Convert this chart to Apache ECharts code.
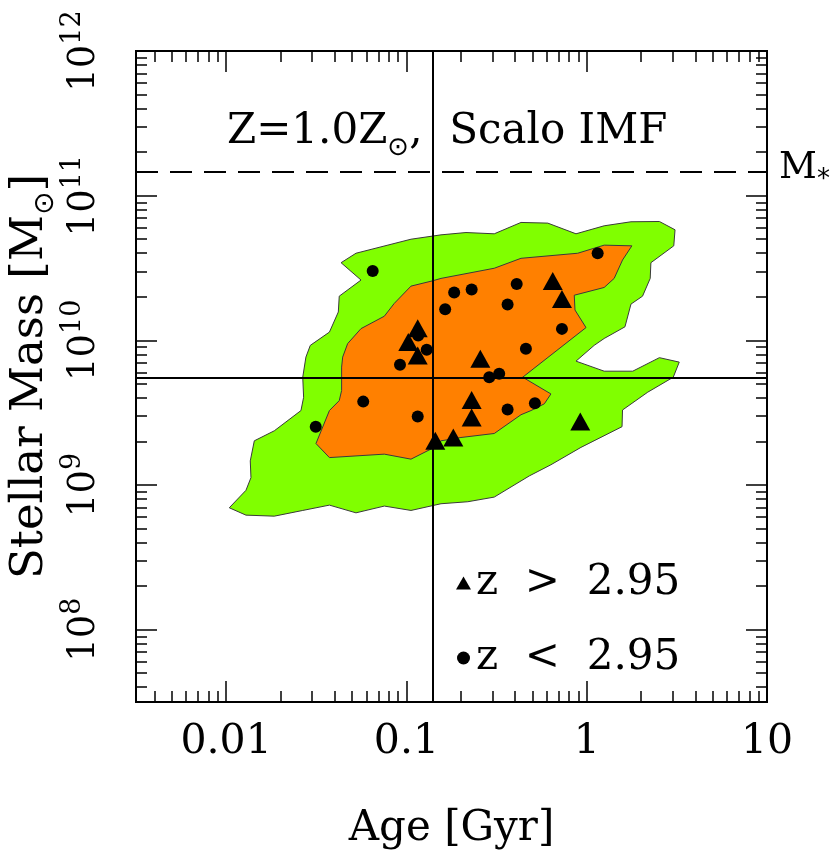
<!DOCTYPE html>
<html><head><meta charset="utf-8">
<script src="https://cdn.jsdelivr.net/npm/echarts@6/dist/echarts.min.js"></script>
<style>html,body{margin:0;padding:0;background:#fff}#c{width:830px;height:858px}</style>
</head><body><div id="c"></div>
<script>
// ---- data ----
const ageTicks = [0.01, 0.1, 1, 10];
const ageTickLabels = ['0.01', '0.1', '1', '10'];
const massTicks = [1e8, 1e9, 1e10, 1e11, 1e12];
const massTickExponents = ['8', '9', '10', '11', '12'];
const ageRange = [0.0031623, 10];
const massRange = [3.1623e7, 1e12];

const ageLine = 0.14;        // vertical solid line
const massLine = 5.54e9;     // horizontal solid line
const mStarLine = 1.47e11;   // dashed M* line

const greenContour = [
  [0.0434,3.44e10],[0.0525,4.00e10],[0.106,5.00e10],[0.1555,5.36e10],[0.214,5.56e10],
  [0.307,5.45e10],[0.432,6.53e10],[0.608,6.46e10],[0.872,5.45e10],[1.25,6.19e10],
  [1.76,6.60e10],[2.53,6.63e10],[3.09,5.81e10],[3.04,4.50e10],[2.27,3.44e10],
  [2.25,2.68e10],[2.04,2.02e10],[1.76,1.78e10],[1.63,1.24e10],[1.25,1.03e10],
  [1.10,9.23e9],[0.872,7.18e9],[1.25,6.12e9],[1.80,6.12e9],[2.53,7.59e9],
  [3.26,7.07e9],[3.02,5.56e9],[2.18,4.38e9],[1.58,3.30e9],[1.57,2.53e9],
  [0.929,1.82e9],[0.633,1.38e9],[0.480,1.155e9],[0.307,8.25e8],[0.219,7.66e8],
  [0.1555,7.42e8],[0.106,6.67e8],[0.0754,7.15e8],[0.0525,6.42e8],[0.0374,7.26e8],
  [0.0266,6.67e8],[0.0185,6.09e8],[0.01288,6.19e8],[0.01041,6.96e8],[0.01288,9.19e8],
  [0.01373,1.124e9],[0.01361,1.468e9],[0.01433,2.02e9],[0.0185,2.37e9],[0.0260,3.27e9],
  [0.0269,4.04e9],[0.0266,5.56e9],[0.0277,7.66e9],[0.0293,9.23e9],[0.0374,1.14e10],
  [0.0419,1.57e10],[0.0424,2.02e10],[0.0560,2.61e10]
];
const orangeContour = [
  [0.106,2.37e10],[0.1399,2.58e10],[0.1555,2.68e10],[0.307,3.15e10],[0.432,3.69e10],
  [0.891,4.00e10],[1.25,4.55e10],[1.78,4.50e10],[1.58,3.59e10],[1.42,2.68e10],
  [1.25,2.32e10],[0.853,2.05e10],[0.861,1.62e10],[0.991,1.225e10],[0.4415,5.56e9],
  [0.633,4.26e9],[0.582,3.64e9],[0.491,3.27e9],[0.432,3.06e9],[0.307,2.27e9],
  [0.2007,2.13e9],[0.1555,2.02e9],[0.1428,1.82e9],[0.106,1.509e9],[0.0754,1.634e9],
  [0.0374,1.547e9],[0.0315,1.935e9],[0.0374,3.27e9],[0.0424,3.83e9],[0.0437,4.50e9],
  [0.0437,6.53e9],[0.0443,7.66e9],[0.0472,9.49e9],[0.0560,1.205e10],[0.0754,1.468e10],
  [0.0856,1.80e10]
];

const circleAge  = [0.0650,1.15,0.409,0.230,0.184,0.364,0.164,0.729,0.1296,0.460,0.0921,0.1162,0.288,0.327,0.0576,0.1155,0.364,0.516,0.0314];
const circleMass = [3.01e10,4.00e10,2.45e10,2.25e10,2.14e10,1.77e10,1.64e10,1.20e10,8.62e9,8.76e9,6.78e9,1.08e10,5.56e9,5.87e9,3.77e9,2.97e9,3.33e9,3.67e9,2.53e9];
const triAge  = [0.1155,0.1024,0.1155,0.257,0.648,0.729,0.230,0.230,0.1446,0.182,0.921];
const triMass = [1.21e10,9.73e9,7.87e9,7.46e9,2.57e10,1.93e10,3.87e9,2.93e9,2.02e9,2.13e9,2.75e9];

const highZName = 'z > 2.95';
const lowZName = 'z < 2.95';

// ---- build ----
const F = 'DejaVu Serif';
function minorValues(lo, hi) {
  const out = [];
  for (let e = Math.floor(Math.log10(lo)); e <= Math.ceil(Math.log10(hi)); e++) {
    for (let k = 2; k <= 9; k++) {
      const v = k * Math.pow(10, e);
      if (v > lo && v < hi) out.push(v);
    }
  }
  return out;
}
const ageMinor = minorValues(ageRange[0], ageRange[1]);
const massMinor = minorValues(massRange[0], massRange[1]);

function nearestIdx(arr, v) {
  let best = -1, bd = 1e9;
  arr.forEach((t, i) => { const d = Math.abs(Math.log10(t) - Math.log10(v)); if (d < bd) { bd = d; best = i; } });
  return bd < 1e-3 ? best : -1;
}

const axisLine = { show: true, onZero: false, lineStyle: { color: '#000', width: 2 } };
function mkX(pos, ticks, len, labels) {
  return {
    type: 'log', logBase: 10, min: ageRange[0], max: ageRange[1], position: pos,
    axisLine: axisLine,
    axisTick: { show: true, inside: true, length: len, customValues: ticks, lineStyle: { color: '#000', width: 1.5 } },
    axisLabel: labels ? {
      show: true, customValues: ageTicks, margin: 20, color: '#000', fontFamily: F, fontSize: 41,
      formatter: v => { const i = nearestIdx(ageTicks, v); return i >= 0 ? ageTickLabels[i] : ''; }
    } : { show: false },
    splitLine: { show: false }, minorTick: { show: false },
    name: labels ? 'Age [Gyr]' : '', nameLocation: 'middle', nameGap: 106, nameMoveOverlap: false,
    nameTextStyle: { color: '#000', fontFamily: F, fontSize: 42 }
  };
}
function mkY(pos, ticks, len, labels) {
  return {
    type: 'log', logBase: 10, min: massRange[0], max: massRange[1], position: pos,
    axisLine: axisLine,
    axisTick: { show: true, inside: true, length: len, customValues: ticks, lineStyle: { color: '#000', width: 1.5 } },
    axisLabel: labels ? {
      show: true, customValues: massTicks, rotate: 90, margin: 33, color: '#000',
      formatter: v => { const i = nearestIdx(massTicks, v); return i >= 0 ? '{b|10}{s|' + massTickExponents[i] + '}' : ''; },
      rich: {
        b: { fontFamily: F, fontSize: 37, color: '#000', padding: [7, 0, 0, 0], verticalAlign: 'bottom' },
        s: { fontFamily: F, fontSize: 27, color: '#000', verticalAlign: 'top' }
      }
    } : { show: false },
    splitLine: { show: false }, minorTick: { show: false },
    name: labels ? '{a|Stellar Mass [M}{s|⊙}{a|]}' : '', nameLocation: 'middle', nameGap: 76, nameMoveOverlap: false,
    nameTextStyle: {
      rich: {
        a: { fontFamily: F, fontSize: 45, color: '#000', verticalAlign: 'top' },
        s: { fontFamily: 'DejaVu Sans', fontSize: 28, color: '#000', verticalAlign: 'top', padding: [24, 0, 0, 0] }
      }
    }
  };
}

function polyRenderer(points, fill) {
  return function (params, api) {
    if (params.dataIndex !== 0) return null;
    const pts = points.map(p => api.coord(p));
    return { type: 'polygon', shape: { points: pts }, style: { fill: fill, stroke: '#3a3a3a', lineWidth: 1 } };
  };
}

const chart = echarts.init(document.getElementById('c'), null, { renderer: 'canvas' });
chart.setOption({
  animation: false,
  backgroundColor: '#fff',
  grid: { left: 136, right: 63, top: 51, bottom: 156, containLabel: false, outerBoundsMode: 'none' },
  title: {
    text: '{a|Z=1.0Z}{s|⊙}{a|,  Scalo IMF}', left: 222, top: 106,
    textStyle: {
      fontWeight: 'normal',
      rich: {
        a: { fontFamily: F, fontSize: 42, color: '#000', fontWeight: 'normal', verticalAlign: 'top' },
        s: { fontFamily: 'DejaVu Sans', fontSize: 26, color: '#000', verticalAlign: 'top', padding: [24, 0, 0, 0] }
      }
    }
  },
  legend: {
    data: [{ name: highZName, icon: 'triangle' }, { name: lowZName, icon: 'circle' }],
    orient: 'vertical', left: 451, top: 557, itemWidth: 15, itemHeight: 13, itemGap: 33,
    formatter: n => n.replace(/ /g, '  '),
    itemStyle: { opacity: 1 },
    textStyle: { color: '#000', fontFamily: F, fontSize: 42, lineHeight: 42 }
  },
  xAxis: [
    mkX('bottom', ageTicks, 21, true),
    mkX('bottom', ageMinor, 11, false),
    mkX('top', ageTicks, 21, false),
    mkX('top', ageMinor, 11, false)
  ],
  yAxis: [
    mkY('left', massTicks, 21, true),
    mkY('left', massMinor, 11, false),
    mkY('right', massTicks, 21, false),
    mkY('right', massMinor, 11, false)
  ],
  series: [
    { type: 'custom', name: 'outer', data: greenContour, renderItem: polyRenderer(greenContour, '#80ff00'), z: 1, silent: true },
    { type: 'custom', name: 'inner', data: orangeContour, renderItem: polyRenderer(orangeContour, '#ff8000'), z: 2, silent: true },
    {
      type: 'line', name: 'refs', data: [], z: 3, silent: true,
      markLine: {
        silent: true, symbol: ['none', 'none'], animation: false,
        lineStyle: { color: '#000', width: 2, type: 'solid' },
        label: { show: false },
        data: [
          { xAxis: ageLine },
          { yAxis: massLine },
          {
            yAxis: mStarLine, lineStyle: { type: [22, 12], color: '#000', width: 1.8 },
            label: {
              show: true, position: 'end', distance: 12, formatter: '{m|M}{s|*}',
              rich: {
                m: { fontFamily: F, fontSize: 37, color: '#000', verticalAlign: 'top' },
                s: { fontFamily: 'DejaVu Sans', fontSize: 26, color: '#000', verticalAlign: 'top', padding: [18, 0, 0, 0] }
              }
            }
          }
        ]
      }
    },
    {
      type: 'scatter', name: highZName, symbol: 'triangle', symbolSize: [20, 18], z: 5,
      itemStyle: { color: '#000', opacity: 1 },
      data: triAge.map((a, i) => [a, triMass[i]])
    },
    {
      type: 'scatter', name: lowZName, symbol: 'circle', symbolSize: 12, z: 5,
      itemStyle: { color: '#000', opacity: 1 },
      data: circleAge.map((a, i) => [a, circleMass[i]])
    }
  ]
});
</script>
</body></html>
